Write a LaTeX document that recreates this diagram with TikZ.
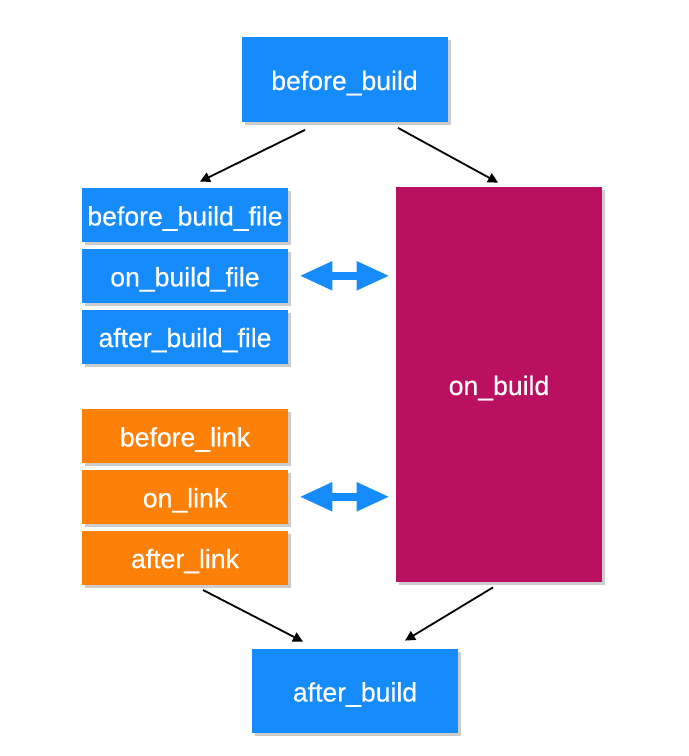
\documentclass[tikz,border=0pt]{standalone}
\usepackage{fontspec}
\setmainfont{Liberation Sans}
\newfontfamily\hookfont{Liberation Sans}[FakeBold=0.4]
\usetikzlibrary{positioning,shadows,arrows.meta}

\definecolor{hookblue}{RGB}{22,139,251}
\definecolor{linkorange}{RGB}{253,128,8}
\definecolor{buildred}{RGB}{186,16,98}

\tikzset{
  hook/.style={fill=hookblue, text=white, minimum width=103pt, minimum height=27pt,
    inner sep=0pt, text height=10.5pt, text depth=0pt,
    font=\hookfont\fontsize{13.3pt}{16pt}\selectfont,
    drop shadow={shadow xshift=1.5pt, shadow yshift=-1.5pt, opacity=.4}},
  linkhook/.style={hook, fill=linkorange},
  flow/.style={-{Triangle[length=5pt,width=5pt]}, line width=.9pt},
  twoway/.style={{Triangle[length=16.5pt,width=13.5pt]}-{Triangle[length=16.5pt,width=13.5pt]},
    line width=4pt, hookblue}
}

\begin{document}
\begin{tikzpicture}
      \useasboundingbox (0,0) rectangle (344.5pt,378pt);
      \node[hook, minimum height=42.5pt] (bb) at (172.25pt,338.25pt) {before\_build};
      \node[hook] (bbf) at (92.5pt,270.5pt) {before\_build\_file};
      \node[hook, below=3pt of bbf] (obf) {on\_build\_file};
      \node[hook, below=3pt of obf] (abf) {after\_build\_file};
      \node[linkhook] (bl) at (92.5pt,160pt) {before\_link};
      \node[linkhook, below=3pt of bl] (ol) {on\_link};
      \node[linkhook, below=3pt of ol] (al) {after\_link};
      \node[hook, fill=buildred, minimum height=197.5pt] (ob) at (249.5pt,185.75pt) {on\_build};
      \node[hook, minimum height=42pt] (ab) at (177.5pt,32.5pt) {after\_build};

      \draw[flow] ([shift={(-19.75pt,-3.75pt)}]bb.south) -- ([shift={(7.5pt,3pt)}]bbf.north);
      \draw[flow] ([shift={(26.75pt,-2.75pt)}]bb.south) -- ([shift={(-.5pt,2pt)}]ob.north);
      \draw[flow] ([shift={(9pt,-2.5pt)}]al.south) -- ([shift={(-26pt,3.5pt)}]ab.north);
      \draw[flow] ([shift={(-3pt,-2.5pt)}]ob.south) -- ([shift={(25pt,4pt)}]ab.north);

      \draw[twoway] ([xshift=5.5pt]obf.east) -- ([xshift=-3pt]obf.east -| ob.west);
      \draw[twoway] ([xshift=5.5pt]ol.east) -- ([xshift=-3pt]ol.east -| ob.west);
    \end{tikzpicture}
\end{document}
